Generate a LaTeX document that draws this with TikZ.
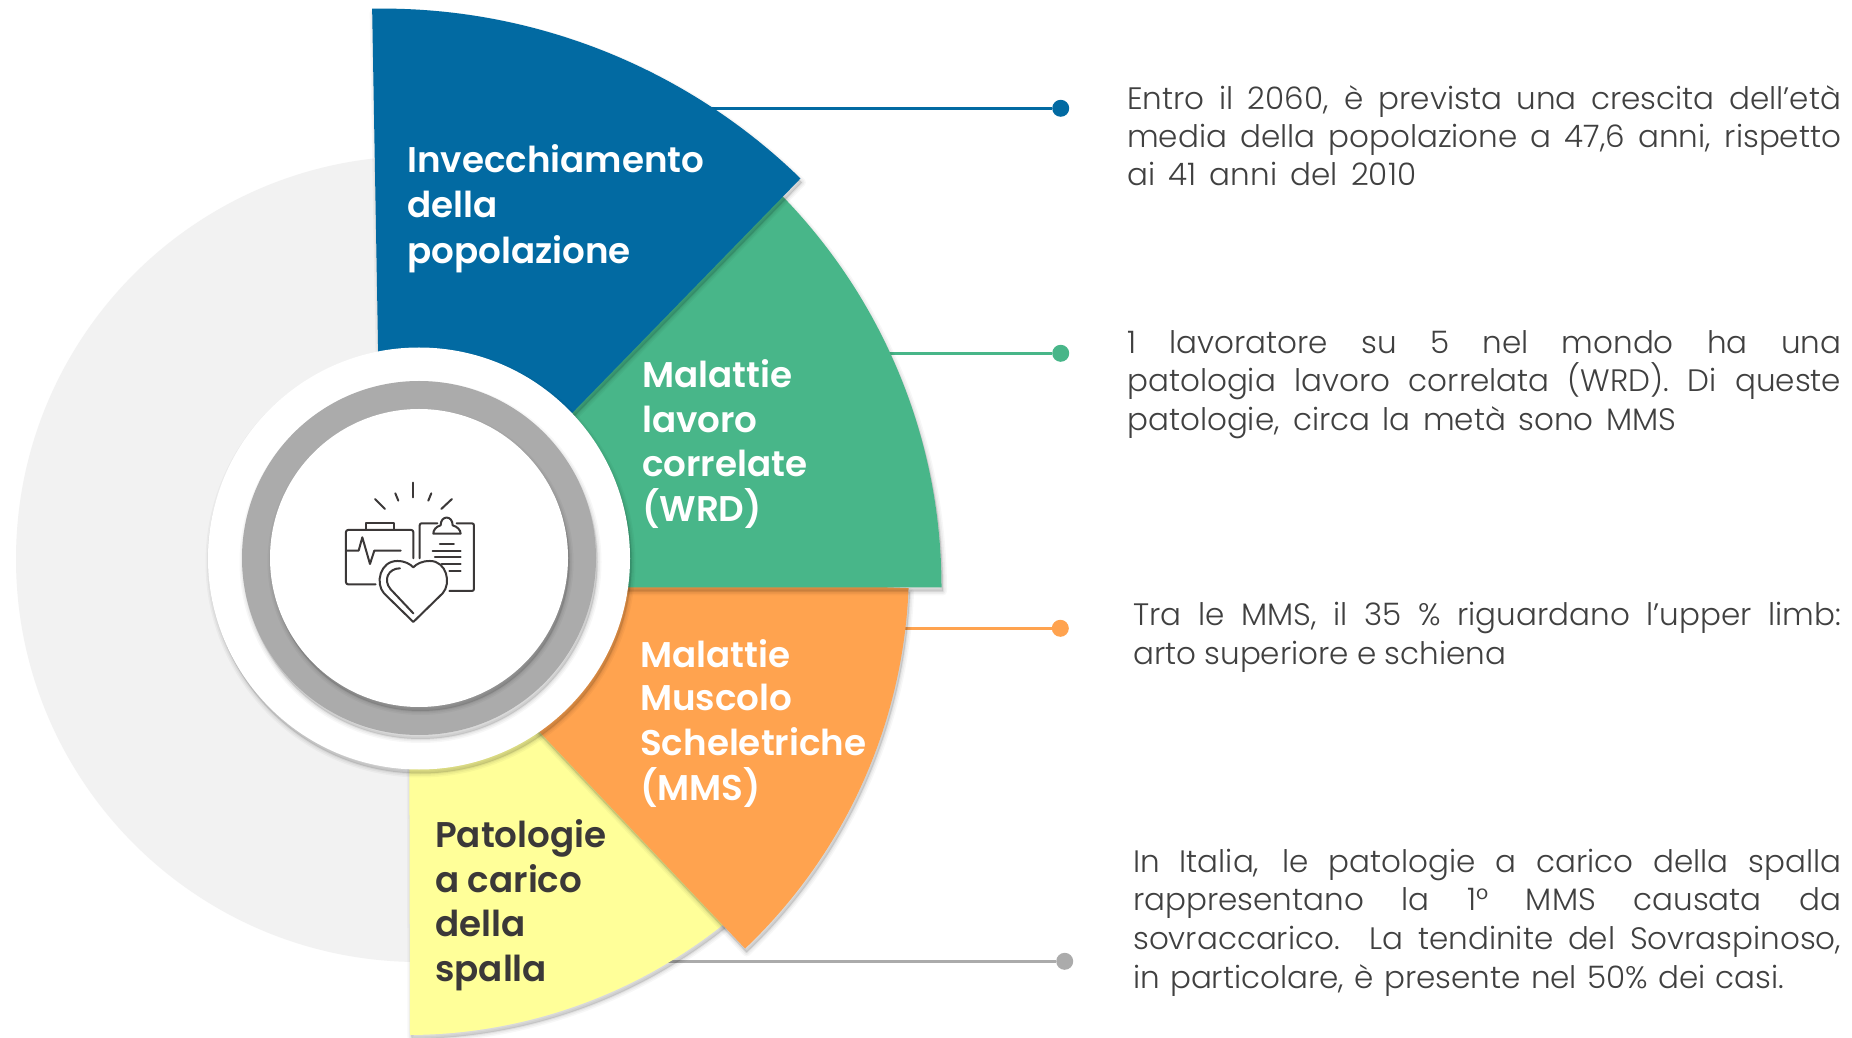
\documentclass[tikz,border=0pt]{standalone}
\usepackage{fontspec}
\newfontfamily\bodyfont{Poppins Light}
\newfontfamily\labelfont{Poppins SemiBold}
\definecolor{cblue}{HTML}{026AA2}
\definecolor{cgreen}{HTML}{48B689}
\definecolor{corange}{HTML}{FFA34F}
\definecolor{cyellow}{HTML}{FFFF99}
\definecolor{cbg}{HTML}{F2F2F2}
\definecolor{cring}{HTML}{ABABAB}
\definecolor{ctext}{HTML}{404040}
\definecolor{cdark}{HTML}{3B3838}
\newcommand{\softshadow}[1]{%
  \begin{scope}[shift={(1.5,-4)}]
    \draw[black,fill=black,opacity=.03,line width=8pt,line join=round] #1;
    \draw[black,fill=black,opacity=.04,line width=5pt,line join=round] #1;
    \draw[black,fill=black,opacity=.05,line width=2pt,line join=round] #1;
  \end{scope}}
\newcommand{\jl}[2]{\makebox[#1pt][s]{#2}}
\tikzset{
  bodyline/.style={anchor=base west,inner sep=0pt,text=ctext,font=\bodyfont\fontsize{31}{38}\selectfont},
  lightlabel/.style={anchor=base west,inner sep=0pt,text=white,font=\labelfont\fontsize{35.7}{45}\selectfont},
  darklabel/.style={lightlabel,text=cdark},
  dot/.style={circle,inner sep=0pt,minimum size=17pt},
  leader/.style={line width=2.8pt}
}
\begin{document}
\begin{tikzpicture}[x=1pt,y=1pt]
\useasboundingbox (0,0) rectangle (1852,1037);
\fill[white] (0,0) rectangle (1852,1037);
\fill[cbg] (419,478) circle[radius=403];
% leaders
\coordinate (cb) at (700,928.7);
\coordinate (cg) at (880,683.7);
\coordinate (co) at (900,408.7);
\coordinate (cy) at (660,75.7);
\node[dot,fill=cblue] (db) at (1060.7,928.7) {};
\node[dot,fill=cgreen] (dg) at (1060.7,683.7) {};
\node[dot,fill=corange] (do) at (1060.3,408.7) {};
\node[dot,fill=cring] (dy) at (1064.7,75.7) {};
\draw[leader,cblue] (cb) -- (db);
\draw[leader,cgreen] (cg) -- (dg);
\draw[leader,corange] (co) -- (do);
\draw[leader,cring] (cy) -- (dy);
% sectors
\def\yellowpath{(409,437) -- (410,2) arc[start angle=-89.66,end angle=-48,radius=508] -- (450,417) -- cycle}
\def\orangepath{(383,470) -- ++(-2.3:526) arc[start angle=-2.3,end angle=-46.5,radius=526] -- cycle}
\def\greenpath{(381,449.6) -- ++(47:560.5) arc[start angle=47,end angle=0,radius=560.5] -- cycle}
\def\bluepath{(382.6,429.4) -- ++(91:599) arc[start angle=91,end angle=45.76,radius=599] -- cycle}
\softshadow{\yellowpath}
\fill[cyellow] \yellowpath;
\softshadow{\orangepath}
\fill[corange] \orangepath;
\softshadow{\greenpath}
\fill[cgreen] \greenpath;
\softshadow{\bluepath}
\fill[cblue] \bluepath;
% centre
\softshadow{(419,478.5) circle[radius=211]}
\fill[white] (419,478.5) circle[radius=211];
\softshadow{(419,479) circle[radius=177]}
\fill[cring] (419,479) circle[radius=177];
\softshadow{(419,479) circle[radius=149]}
\fill[white] (419,479) circle[radius=149];
% icon
\begin{scope}[shift={(200,697)},x=0.3333pt,y=-0.3333pt,line width=2pt,draw=cdark,line cap=round,line join=round]
  \draw (525,477) -- (555,507);
  \draw (586,460) -- (595,482);
  \draw (639,428) -- (639,472);
  \draw (694,460) -- (685,482);
  \draw (756,477) -- (724,507);
  \draw[rounded corners=2pt] (527,733) -- (438,733) -- (438,570) -- (640,570) -- (640,655);
  \draw (498,570) -- (498,550) -- (581,550) -- (581,570);
  \draw (440,632) -- (476,632) -- (487,592) -- (510,672) -- (523,632) -- (602,632);
  \draw[rounded corners=2pt] (659,655) -- (659,550) -- (712,550);
  \draw[rounded corners=2pt] (770,550) -- (822,550) -- (822,753) -- (748,753);
  \draw (722,556) .. controls (722,525) and (758,525) .. (758,556)
        .. controls (772,560) and (782,570) .. (782,581) -- (700,581)
        .. controls (700,570) and (708,560) .. (722,556) -- cycle;
  \draw (720,611) -- (762,611);
  \draw (698,632) -- (782,632);
  \draw (705,652) -- (782,652);
  \draw (725,672) -- (782,672);
  \draw (748,692) -- (782,692);
  \draw[fill=white] (640,846) -- (552,760) .. controls (525,730) and (540,663) .. (592,663)
        .. controls (615,663) and (630,672) .. (640,682)
        .. controls (650,672) and (665,663) .. (690,663)
        .. controls (740,663) and (755,730) .. (728,760) -- cycle;
  \draw (600,685) .. controls (565,685) and (548,720) .. (572,748) -- (640,820);
\end{scope}
% sector labels
\node[lightlabel] (a1) at (407,864) {Invecchiamento};
\node[lightlabel] (a2) at (407,819) {della};
\node[lightlabel] (a3) at (407,773.5) {popolazione};
\node[lightlabel] (b1) at (642,649.3) {Malattie};
\node[lightlabel] (b2) at (642,604.3) {lavoro};
\node[lightlabel] (b3) at (642,560.3) {correlate};
\node[lightlabel] (b4) at (642,515.3) {(WRD)};
\node[lightlabel] (c1) at (640,369.7) {Malattie};
\node[lightlabel] (c2) at (640,326.3) {Muscolo};
\node[lightlabel] (c3) at (640,282) {Scheletriche};
\node[lightlabel] (c4) at (640,237) {(MMS)};
\node[darklabel] (e1) at (435,189.3) {Patologie};
\node[darklabel] (e2) at (435,144.3) {a carico};
\node[darklabel] (e3) at (435,100.3) {della};
\node[darklabel] (e4) at (435,55.3) {spalla};
% text blocks
\node[bodyline] (t11) at (1127,927) {\jl{714}{Entro il 2060, è prevista una crescita dell’età}};
\node[bodyline] (t12) at (1127,889.5) {\jl{714}{media della popolazione a 47,6 anni, rispetto}};
\node[bodyline] (t13) at (1127,851) {\jl{289}{ai 41 anni del 2010}};
\node[bodyline] (t21) at (1127,683.7) {\jl{714}{1 lavoratore su 5 nel mondo ha una}};
\node[bodyline] (t22) at (1127,645) {\jl{714}{patologia lavoro correlata (WRD). Di queste}};
\node[bodyline] (t23) at (1127,606.5) {\jl{549}{patologie, circa la metà sono MMS}};
\node[bodyline] (t31) at (1133,411.3) {\jl{708}{Tra le MMS, il 35 \% riguardano l’upper limb:}};
\node[bodyline] (t32) at (1133,372) {\jl{373}{arto superiore e schiena}};
\node[bodyline] (t41) at (1133,164.3) {\jl{708}{In Italia, le patologie a carico della spalla}};
\node[bodyline] (t42) at (1133,126.3) {\jl{708}{rappresentano la 1° MMS causata da}};
\node[bodyline] (t43) at (1133,87.5) {\jl{708}{sovraccarico. La tendinite del Sovraspinoso,}};
\node[bodyline] (t44) at (1133,49) {\jl{651}{in particolare, è presente nel 50\% dei casi.}};
\end{tikzpicture}
\end{document}
